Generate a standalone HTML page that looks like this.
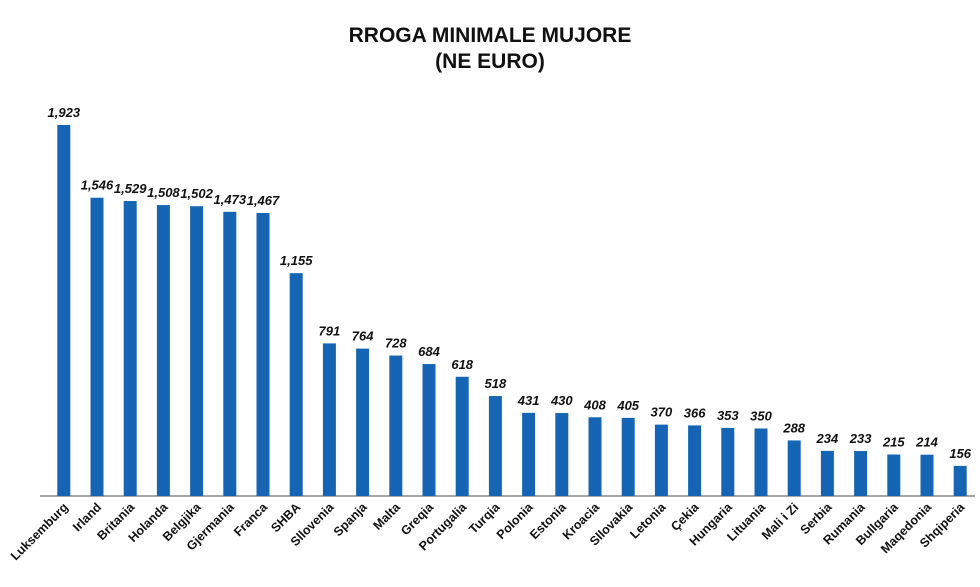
<!DOCTYPE html>
<html><head><meta charset="utf-8"><style>
html,body{margin:0;padding:0;background:#fff;}
svg{display:block;font-family:"Liberation Sans",sans-serif;}
</style></head><body>
<svg id="chart" width="980" height="587">
<text x="490" y="42" text-anchor="middle" font-size="21" font-weight="bold" fill="#111">RROGA MINIMALE MUJORE</text>
<text x="490" y="68" text-anchor="middle" font-size="21" font-weight="bold" fill="#111">(NE EURO)</text>
<line x1="40" y1="496" x2="975" y2="496" stroke="#888" stroke-width="1.5"/>
<g id="bars"></g>
</svg>
<script>
const categories = ["Luksemburg","Irland","Britania","Holanda","Belgjika","Gjermania","Franca","SHBA","Sllovenia","Spanja","Malta","Greqia","Portugalia","Turqia","Polonia","Estonia","Kroacia","Sllovakia","Letonia","Çekia","Hungaria","Lituania","Mali i Zi","Serbia","Rumania","Bullgaria","Maqedonia","Shqiperia"];
const values = [1923,1546,1529,1508,1502,1473,1467,1155,791,764,728,684,618,518,431,430,408,405,370,366,353,350,288,234,233,215,214,156];
const valueLabels = ["1,923","1,546","1,529","1,508","1,502","1,473","1,467","1,155","791","764","728","684","618","518","431","430","408","405","370","366","353","350","288","234","233","215","214","156"];

const base = 496, topY = 125, maxV = 1923;
const yScale = v => base - v * (base - topY) / maxV;
const xCenter = i => 63.8 + i * 33.2;
const bw = 13;
const ns = "http://www.w3.org/2000/svg";
const g = document.getElementById("bars");
categories.forEach((c, i) => {
  const x = xCenter(i), y = yScale(values[i]);
  const r = document.createElementNS(ns, "rect");
  r.setAttribute("x", x - bw/2); r.setAttribute("y", y);
  r.setAttribute("width", bw); r.setAttribute("height", base - y);
  r.setAttribute("fill", "#1565b4");
  
  
  g.appendChild(r);
  const t = document.createElementNS(ns, "text");
  t.setAttribute("x", x); t.setAttribute("y", y - 8);
  t.setAttribute("text-anchor", "middle");
  t.setAttribute("font-size", "13"); t.setAttribute("font-weight", "bold");
  t.setAttribute("font-style", "italic"); t.setAttribute("fill", "#111");
  t.textContent = valueLabels[i];
  
  
  g.appendChild(t);
  const l = document.createElementNS(ns, "text");
  l.setAttribute("transform", `translate(${x + 5},${508}) rotate(-45)`);
  l.setAttribute("text-anchor", "end");
  l.setAttribute("font-size", "12.5"); l.setAttribute("font-weight", "bold");
  l.setAttribute("fill", "#111");
  l.textContent = c;
  
  
  g.appendChild(l);
});
</script>
</body></html>
